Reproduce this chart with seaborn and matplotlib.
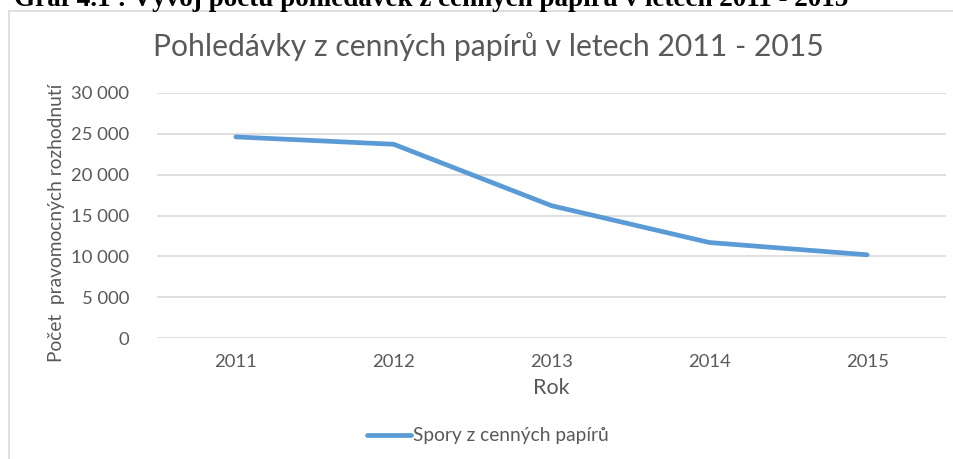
import pandas as pd
import seaborn as sns
import matplotlib.pyplot as plt
from matplotlib.lines import Line2D

# data
roky = ['2011', '2012', '2013', '2014', '2015']
spory = [24600, 23700, 16200, 11700, 10200]
y_ticks = [0, 5000, 10000, 15000, 20000, 25000, 30000]
y_labels = ['0', '5 000', '10 000', '15 000', '20 000', '25 000', '30 000']

df = pd.DataFrame({'Rok': roky, 'Spory z cenných papírů': spory})

sns.set_style('white')
plt.rcParams['font.family'] = ['Lato', 'DejaVu Sans']
seda = '#595959'

fig = plt.figure(figsize=(9.54, 4.59), dpi=100)
ax = fig.add_axes([157 / 954, 120.7 / 459, 789 / 954, 245.6 / 459])

sns.lineplot(x='Rok', y='Spory z cenných papírů', data=df, ax=ax,
             color='#5B9BD5', linewidth=3.4, solid_capstyle='round',
             solid_joinstyle='round', label='Spory z cenných papírů', legend=False)

ax.set_xlim(-0.5, 4.5)
ax.set_ylim(0, 30000)
ax.set_yticks(y_ticks)
ax.set_yticklabels(y_labels)
ax.grid(axis='y', color='#D9D9D9', linewidth=1.2)
ax.set_axisbelow(True)
for s in ax.spines.values():
    s.set_visible(False)
ax.tick_params(axis='both', length=0, labelsize=13.3, colors=seda)
ax.tick_params(axis='y', pad=20)
ax.tick_params(axis='x', pad=11)
ax.set_xlabel('Rok', fontsize=15.5, color=seda, labelpad=6)
ax.set_ylabel('Počet  pravomocných rozhodnutí', fontsize=13.8, color=seda)
ax.yaxis.set_label_coords(-0.116, 0.47)

# nadpis grafu
fig.text(488 / 954, 1 - 47 / 459, 'Pohledávky z cenných papírů v letech 2011 - 2015',
         ha='center', va='center', fontsize=21.7, color=seda)

# legenda
h = Line2D([], [], color='#5B9BD5', linewidth=3.4, solid_capstyle='round')
fig.legend([h], ['Spory z cenných papírů'], loc='center left',
           bbox_to_anchor=(350 / 954, 1 - 436 / 459), frameon=False,
           fontsize=13.8, handlelength=2.3, handletextpad=0.1, labelcolor=seda)

# ramecek kolem grafu
fig.add_artist(Line2D([9 / 954, 1], [1 - 11 / 459, 1 - 11 / 459],
                      transform=fig.transFigure, color='#D9D9D9', linewidth=1.2))
fig.add_artist(Line2D([9 / 954, 9 / 954], [0, 1 - 11 / 459],
                      transform=fig.transFigure, color='#D9D9D9', linewidth=1.2))

# oriznuty popisek nad grafem
fig.text(14 / 954, 1 - 6 / 459,
         'Graf 4.1 : Vývoj počtu pohledávek z cenných papírů v letech 2011 - 2015',
         ha='left', va='baseline', fontsize=19.5, fontweight='bold',
         family=['Liberation Serif', 'DejaVu Serif'], color='black')

fig.savefig('out.png', dpi=100)
